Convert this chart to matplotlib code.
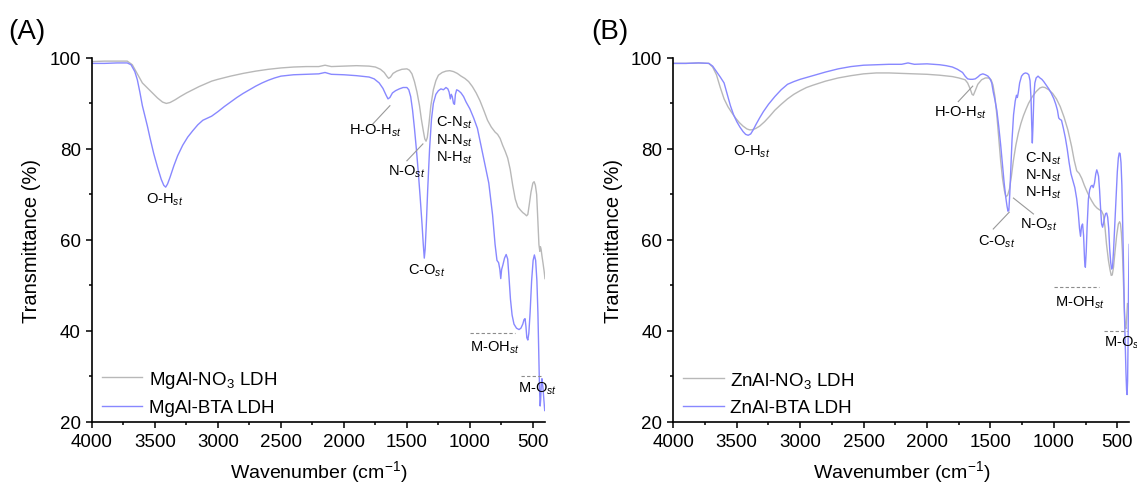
import matplotlib
matplotlib.use('Agg')
import matplotlib.pyplot as plt
from matplotlib.ticker import MultipleLocator

plt.rcParams['font.family'] = ['Liberation Sans', 'DejaVu Sans']
plt.rcParams['mathtext.fontset'] = 'custom'
plt.rcParams['mathtext.rm'] = 'Liberation Sans'
plt.rcParams['mathtext.it'] = 'Liberation Sans:italic'
plt.rcParams['mathtext.bf'] = 'Liberation Sans:bold'

# ---- data ----
# (A) MgAl-NO3 LDH
mgal_no3_wn = [4000, 3900, 3800, 3720, 3680, 3640, 3600, 3560, 3520, 3480, 3440, 3410, 3380, 3340,
               3300, 3250, 3200, 3150, 3100, 3050, 3000, 2900, 2800, 2700, 2600, 2500, 2400, 2300,
               2200, 2150, 2100, 2000, 1900, 1800, 1750, 1710, 1680, 1660, 1645, 1630, 1610, 1580,
               1540, 1500, 1480, 1460, 1440, 1420, 1400, 1385, 1370, 1358, 1348, 1338, 1325, 1310,
               1290, 1270, 1250, 1220, 1190, 1160, 1130, 1100, 1070, 1040, 1010, 980, 950, 920, 890,
               860, 830, 800, 780, 760, 740, 720, 700, 680, 660, 640, 620, 600, 580, 565, 550, 540,
               530, 515, 500, 490, 480, 470, 460, 452, 445, 440, 435, 428, 420, 410, 404]
mgal_no3_t = [99.2, 99.3, 99.3, 99.3, 98.5, 96.5, 94.5, 93.4, 92.3, 91.2, 90.3, 90.0, 90.2, 90.8,
              91.5, 92.3, 93.0, 93.7, 94.3, 94.9, 95.3, 96.0, 96.6, 97.1, 97.5, 97.8, 98.0, 98.1,
              98.1, 98.4, 98.1, 98.2, 98.3, 98.2, 98.0, 97.5, 96.8, 96.0, 95.5, 95.8, 96.6, 97.1,
              97.5, 97.6, 97.3, 96.5, 94.8, 92.5, 89.5, 86.5, 84.0, 82.2, 81.7, 82.5, 85.5, 89.5,
              93.0, 95.0, 96.2, 96.8, 97.1, 97.2, 97.0, 96.6, 96.0, 95.5, 94.8, 93.7, 92.3, 90.6, 88.5,
              86.3, 84.8, 83.7, 83.2, 82.3, 80.8, 79.5, 78.0, 75.5, 72.0, 69.0, 67.3, 66.6, 66.0, 65.7,
              65.3, 65.6, 67.5, 70.5, 72.5, 72.8, 72.0, 70.0, 64.0, 59.0, 57.5, 58.5, 58.0, 56.5, 55.0,
              53.0, 51.5]

# (A) MgAl-BTA LDH
mgal_bta_wn = [4000, 3900, 3800, 3720, 3690, 3660, 3640, 3620, 3600, 3580, 3560, 3540, 3510, 3480,
               3450, 3430, 3415, 3400, 3380, 3350, 3320, 3280, 3240, 3200, 3160, 3120, 3080, 3050,
               3000, 2950, 2900, 2850, 2800, 2750, 2700, 2650, 2600, 2550, 2500, 2400, 2300, 2200,
               2150, 2100, 2000, 1900, 1800, 1760, 1720, 1690, 1665, 1650, 1635, 1615, 1590, 1560,
               1530, 1500, 1485, 1470, 1455, 1440, 1425, 1410, 1395, 1380, 1370, 1362, 1355, 1345,
               1335, 1320, 1305, 1290, 1270, 1250, 1230, 1210, 1190, 1175, 1165, 1155, 1148, 1140,
               1130, 1122, 1115, 1105, 1090, 1070, 1050, 1030, 1000, 970, 940, 910, 880, 850, 820,
               800, 785, 772, 762, 755, 748, 738, 725, 712, 700, 690, 678, 665, 650, 630, 610, 595,
               580, 570, 562, 555, 548, 540, 532, 522, 510, 498, 488, 478, 468, 460, 453, 447, 442,
               438, 433, 428, 420, 412, 406]
mgal_bta_t = [98.8, 98.8, 98.9, 98.9, 98.5, 97.0, 95.2, 92.5, 89.5, 87.3, 85.0, 82.5, 79.0, 76.0,
              73.3, 72.0, 71.6, 72.3, 73.8, 76.3, 78.5, 80.8, 82.6, 84.0, 85.3, 86.3, 86.8, 87.2,
              88.2, 89.3, 90.3, 91.3, 92.2, 93.0, 93.8, 94.5, 95.1, 95.6, 96.0, 96.3, 96.4, 96.5,
              96.8, 96.4, 96.3, 96.1, 95.8, 95.4, 94.5, 93.3, 91.8, 91.0, 91.3, 92.3, 92.8, 93.2,
              93.5, 93.5, 93.0, 91.5, 88.5, 84.5, 80.0, 75.0, 69.5, 63.5, 59.0, 56.0, 58.0, 64.0,
              71.0, 80.0, 86.5, 90.0, 92.0, 92.8, 93.2, 93.0, 93.5, 93.2, 92.5, 91.0, 92.0, 91.5,
              90.0, 89.8, 92.0, 93.0, 92.8, 92.3, 91.5, 90.3, 88.8, 86.8, 84.5, 80.5, 76.5, 72.5, 65.5,
              59.0, 55.5, 55.0, 53.5, 51.5, 53.5, 54.5, 56.0, 56.8, 55.8, 52.0, 47.0, 43.5, 41.5, 40.6,
              40.3, 40.6, 41.5, 42.5, 42.7, 41.0, 38.5, 38.0, 39.5, 44.0, 51.0, 55.5, 56.7, 55.5, 51.0,
              44.0, 35.0, 27.0, 23.5, 25.0, 28.5, 29.5, 27.5, 24.5, 22.5]

# (B) ZnAl-NO3 LDH
znal_no3_wn = [4000, 3900, 3800, 3720, 3690, 3660, 3630, 3600, 3570, 3540, 3510, 3480, 3450, 3420,
               3400, 3380, 3350, 3320, 3280, 3240, 3200, 3150, 3100, 3050, 3000, 2950, 2900, 2800,
               2700, 2600, 2500, 2400, 2300, 2200, 2100, 2000, 1900, 1800, 1750, 1700, 1680, 1660,
               1645, 1635, 1620, 1600, 1570, 1540, 1515, 1495, 1480, 1465, 1450, 1435, 1420, 1405,
               1390, 1378, 1365, 1350, 1335, 1320, 1300, 1280, 1260, 1240, 1220, 1200, 1170, 1140,
               1110, 1090, 1070, 1040, 1010, 980, 950, 920, 890, 860, 840, 820, 800, 780, 760, 740,
               720, 700, 680, 660, 640, 625, 610, 598, 585, 570, 558, 548, 540, 530, 518, 505, 492,
               482, 475, 468, 460, 452, 445, 438, 432, 426, 420]
znal_no3_t = [98.8, 98.8, 98.9, 98.8, 98.0, 96.3, 93.5, 91.0, 89.3, 88.0, 86.8, 85.8, 85.0, 84.4,
              84.2, 84.2, 84.5, 85.0, 86.0, 87.2, 88.5, 89.8, 91.0, 92.0, 92.8, 93.5, 94.0, 94.9,
              95.6, 96.1, 96.5, 96.7, 96.7, 96.6, 96.5, 96.4, 96.2, 95.9, 95.6, 95.2, 94.5, 93.2,
              92.0, 91.8, 92.8, 94.2, 95.2, 95.6, 95.6, 95.2, 94.0, 91.5, 87.5, 82.5, 77.5, 73.5,
              70.8, 69.5, 69.8, 71.2, 74.0, 77.3, 80.8, 83.5, 85.6, 87.3, 88.7, 90.0, 91.5, 92.6,
              93.4, 93.6, 93.5, 93.0, 92.2, 91.0, 89.3, 87.0, 84.2, 80.5, 77.5, 75.2, 74.6, 73.5,
              72.0, 70.7, 69.5, 68.5, 67.6, 67.0, 66.6, 66.4, 65.5, 63.0, 59.0, 55.5, 53.5, 52.2,
              52.3, 54.0, 57.5, 61.0, 63.5, 64.0, 63.5, 61.5, 57.5, 51.0, 45.0, 41.0, 40.5, 43.0, 46.0]

# (B) ZnAl-BTA LDH
znal_bta_wn = [4000, 3900, 3800, 3720, 3690, 3660, 3630, 3600, 3575, 3550, 3525, 3500, 3475, 3450,
               3430, 3410, 3390, 3370, 3350, 3320, 3290, 3250, 3200, 3150, 3100, 3050, 3000, 2900,
               2800, 2700, 2600, 2500, 2400, 2300, 2200, 2150, 2100, 2000, 1900, 1850, 1800, 1760,
               1720, 1700, 1680, 1660, 1640, 1620, 1600, 1580, 1560, 1540, 1520, 1505, 1490, 1478,
               1465, 1450, 1435, 1420, 1405, 1392, 1380, 1370, 1362, 1355, 1348, 1340, 1330, 1318,
               1305, 1295, 1288, 1280, 1270, 1255, 1240, 1225, 1210, 1198, 1188, 1180, 1175, 1170,
               1165, 1158, 1150, 1140, 1125, 1110, 1095, 1080, 1060, 1040, 1020, 1000, 985, 972, 962,
               952, 940, 925, 910, 895, 880, 865, 850, 835, 820, 808, 798, 790, 782, 774, 766, 758,
               752, 745, 738, 728, 718, 708, 698, 690, 680, 670, 662, 655, 648, 640, 632, 624, 616,
               608, 600, 592, 584, 576, 568, 560, 552, 545, 538, 530, 520, 510, 500, 492, 485, 478,
               471, 464, 457, 450, 444, 438, 432, 427, 423, 419, 415, 412, 409, 406]
znal_bta_t = [98.8, 98.8, 98.9, 98.8, 98.2, 97.0, 95.8, 94.5, 92.0, 89.5, 87.5, 86.0, 84.8, 83.8,
              83.2, 83.0, 83.3, 84.2, 85.3, 86.8, 88.2, 89.8, 91.5, 93.0, 94.2, 94.8, 95.3, 96.1,
              96.9, 97.6, 98.1, 98.4, 98.5, 98.6, 98.6, 98.9, 98.6, 98.7, 98.5, 98.3, 98.0, 97.5,
              96.8, 96.0, 95.4, 95.3, 95.3, 95.4, 95.8, 96.3, 96.5, 96.3, 96.0, 95.5, 94.5, 92.5,
              90.8, 88.5, 85.0, 81.0, 76.5, 72.5, 69.5, 67.5, 66.3, 66.5, 70.0, 75.5, 82.0, 87.5,
              90.5, 91.8, 91.3, 92.5, 94.5, 96.0, 96.5, 96.7, 96.6, 96.3, 95.0, 91.0, 85.5, 81.3,
              85.0, 91.5, 94.5, 95.6, 96.0, 95.6, 95.3, 94.8, 94.0, 93.2, 92.2, 91.0, 89.8, 88.5, 86.8,
              86.5, 86.3, 84.5, 82.5, 80.0, 77.0, 74.5, 73.0, 71.5, 69.0, 66.0, 62.5, 60.8, 63.0, 63.5,
              61.0, 55.5, 54.0, 57.5, 63.0, 69.0, 71.0, 71.8, 72.0, 71.5, 72.5, 74.5, 75.4, 74.8, 74.0,
              71.0, 67.0, 63.5, 62.8, 63.8, 65.0, 65.8, 65.9, 65.0, 62.5, 58.0, 55.0, 53.6, 54.0, 57.5,
              63.5, 70.0, 75.0, 78.0, 79.1, 79.0, 77.0, 72.0, 63.0, 53.0, 44.0, 37.0, 31.0, 27.0, 26.0,
              29.0, 38.0, 48.0, 55.0, 59.0]

# ---- peak labels: (text, x, y) ----
labels_a = [('O-H$_{st}$', 3420, 69.0),
            ('H-O-H$_{st}$', 1754, 84.2),
            ('N-O$_{st}$', 1500, 75.2),
            ('C-N$_{st}$', 1127, 85.9),
            ('N-N$_{st}$', 1127, 82.1),
            ('N-H$_{st}$', 1127, 78.2),
            ('C-O$_{st}$', 1341, 53.4),
            ('M-OH$_{st}$', 802, 36.6),
            ('M-O$_{st}$', 460, 27.4)]
leaders_a = [((1770, 85.5), (1635, 89.5)),
             ((1500, 77.4), (1373, 81.1))]
dashes_a = [((1000, 643), 39.6), ((598, 423), 30.0)]

labels_b = [('O-H$_{st}$', 3380, 79.5),
            ('H-O-H$_{st}$', 1741, 88.1),
            ('C-N$_{st}$', 1085, 78.0),
            ('N-N$_{st}$', 1085, 74.3),
            ('N-H$_{st}$', 1085, 70.5),
            ('N-O$_{st}$', 1122, 63.5),
            ('C-O$_{st}$', 1451, 59.9),
            ('M-OH$_{st}$', 793, 46.4)]
leaders_b = [((1754, 90.4), (1640, 93.8)),
             ((1161, 65.7), (1319, 69.2)),
             ((1478, 62.4), (1352, 66.1))]
dashes_b = [((998, 641), 49.6), ((604, 424), 39.9)]

GREY = '#b8b8b8'
BLUE = '#8888ff'

fig = plt.figure(figsize=(11.37, 4.85), dpi=100)
ax_a = fig.add_axes([0.0809, 0.128, 0.3984, 0.7505])
ax_b = fig.add_axes([0.5922, 0.128, 0.4012, 0.7505])

panels = [(ax_a, mgal_no3_wn, mgal_no3_t, mgal_bta_wn, mgal_bta_t, 'MgAl', labels_a, leaders_a, dashes_a),
          (ax_b, znal_no3_wn, znal_no3_t, znal_bta_wn, znal_bta_t, 'ZnAl', labels_b, leaders_b, dashes_b)]

for ax, wn1, t1, wn2, t2, name, labels, leaders, dashes in panels:
    ax.plot(wn1, t1, color=GREY, lw=1.0, label=name + '-NO$_3$ LDH')
    ax.plot(wn2, t2, color=BLUE, lw=1.0, label=name + '-BTA LDH')

    for txt, x, y in labels:
        ax.text(x, y, txt, fontsize=10.5, ha='center', va='center')
    for (x0, y0), (x1, y1) in leaders:
        ax.plot([x0, x1], [y0, y1], color='#999999', lw=0.8)
    for (x0, x1), y in dashes:
        ax.plot([x0, x1], [y, y], color='#8c8c8c', lw=0.8, linestyle=(0, (3, 2)))

    ax.set_xlim(4000, 404)
    ax.set_ylim(20, 100)
    ax.xaxis.set_major_locator(MultipleLocator(500))
    ax.xaxis.set_minor_locator(MultipleLocator(250))
    ax.yaxis.set_major_locator(MultipleLocator(20))
    ax.yaxis.set_minor_locator(MultipleLocator(10))
    ax.tick_params(which='major', direction='out', length=4.5, width=1.1, labelsize=13.5)
    ax.tick_params(which='minor', direction='out', length=2.5, width=1.1)
    for s in ['top', 'right']:
        ax.spines[s].set_visible(False)
    for s in ['left', 'bottom']:
        ax.spines[s].set_linewidth(1.2)
    ax.set_xlabel('Wavenumber (cm$^{-1}$)', fontsize=14, labelpad=6)
    ax.set_ylabel('Transmittance (%)', fontsize=14.5, labelpad=6)
    ax.legend(loc='lower left', bbox_to_anchor=(0.022, 0.015), frameon=False, fontsize=13.5,
              handlelength=2.15, handletextpad=0.35, labelspacing=0.5, borderpad=0, borderaxespad=0)

# M-O label in (B) runs off the right edge of the figure, as in the original
ax_b.text(604, 37.5, 'M-O$_{st}$', fontsize=10.5, ha='left', va='center', clip_on=False)

fig.text(0.024, 0.934, '(A)', fontsize=20, ha='center', va='center')
fig.text(0.536, 0.934, '(B)', fontsize=20, ha='center', va='center')

fig.savefig('out.png', dpi=100)
